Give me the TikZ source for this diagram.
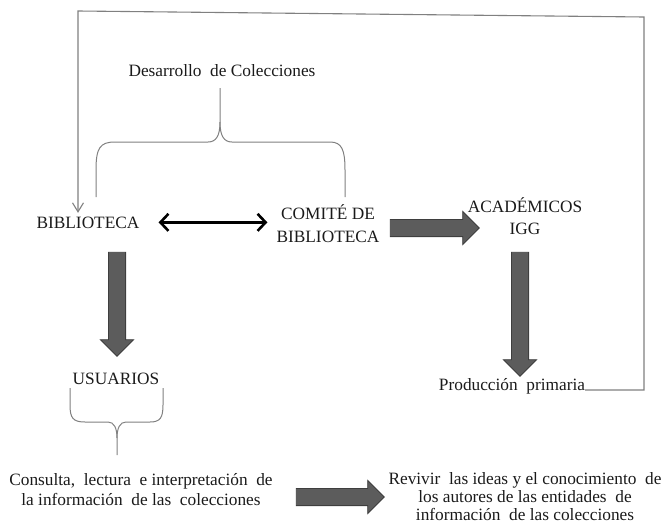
\documentclass[tikz,border=0pt]{standalone}
\usepackage{fontspec}
\setmainfont{Liberation Serif}
\usetikzlibrary{arrows.meta,shapes.arrows}
\definecolor{txt}{HTML}{1A1A1A}
\definecolor{arrfill}{HTML}{5C5C5C}
\definecolor{arrline}{HTML}{3E3E3E}
\definecolor{thin}{HTML}{808080}
\begin{document}
\begin{tikzpicture}[x=1pt,y=-1pt,
  lbl/.style={inner sep=0pt, text=txt, font=\fontsize{17.3}{20}\selectfont, align=center},
  fatarrow/.style={single arrow, draw=arrline, fill=arrfill, line width=0.8pt,
    inner xsep=0pt, inner ysep=8.2pt, single arrow head extend=8pt,
    single arrow tip angle=90, single arrow head indent=0pt},
  fb/.style={draw=thin, line width=1.1pt},
  bracepath/.style={draw=thin, line width=1pt},
  dbl/.style={draw=black, line width=2.6pt,
    {Straight Barb[length=8pt,width=17pt]}-{Straight Barb[length=8pt,width=17pt]}}]
\useasboundingbox (0,0) rectangle (669,525);

% text nodes
\node[lbl, anchor=base] (des) at (222,76) {Desarrollo\ \ de Colecciones};
\node[lbl, anchor=base] (bib) at (88,228) {BIBLIOTECA};
\node[lbl, font=\fontsize{17.3}{23}\selectfont] (com) at (328,224) {COMITÉ DE\\BIBLIOTECA};
\node[lbl, font=\fontsize{17.3}{22}\selectfont] (acad) at (525,216.5) {ACADÉMICOS\\IGG};
\node[lbl, anchor=base] (prod) at (512,390) {Producción\ \ primaria};
\node[lbl, anchor=base] (usu) at (116,384) {USUARIOS};
\node[lbl, font=\fontsize{17.3}{20}\selectfont] (cons) at (141,490)
  {Consulta,\ \ lectura\ \ e interpretación\ \ de\\la información\ \ de las\ \ colecciones};
\node[lbl, font=\fontsize{17.3}{18}\selectfont] (rev) at (525,496.5)
  {Revivir\ \ las ideas y el conocimiento\ \ de\\los autores de las entidades\ \ de\\información\ \ de las colecciones};

% block arrows
\node[fatarrow, minimum height=104pt, rotate=-90] (a1) at (117,300) {};
\node[fatarrow, minimum height=89pt] (a2) at (430.5,228) {};
\node[fatarrow, minimum height=124pt, rotate=-90] (a3) at (520,310) {};
\node[fatarrow, minimum height=88pt] (a4) at (336,497) {};

% double arrow
\draw[dbl, shorten <=19pt, shorten >=9pt] (bib.east) -- (com.west |- bib.east);

% feedback line
\coordinate (fr) at (644,17);
\coordinate (fl) at (78,11);
\draw[fb, -{Straight Barb[length=9pt,width=11pt]}, shorten >=3.5pt]
  (prod.base east) -| (fr) -- (fl) -- (fl |- bib.north);

% upper brace
\draw[bracepath] (96,197) -- (96,170) .. controls (96,148) and (100,142) .. (115,142)
  -- (208,142) .. controls (216,142) and (220,136) .. (220,122) -- (220,88);
\draw[bracepath] (220,122) .. controls (220,136) and (224,142) .. (232,142)
  -- (330,142) .. controls (342,142) and (345,150) .. (345,170) -- (345,197);

% lower brace
\draw[bracepath] (70,388) -- (70,405) .. controls (70,418) and (73,422) .. (85,422)
  -- (108,422) .. controls (114,422) and (117,428) .. (117,438) -- (117,455);
\draw[bracepath] (117,438) .. controls (117,428) and (120,422) .. (126,422)
  -- (150,422) .. controls (160,422) and (163,418) .. (163,405) -- (163,388);
\end{tikzpicture}
\end{document}
